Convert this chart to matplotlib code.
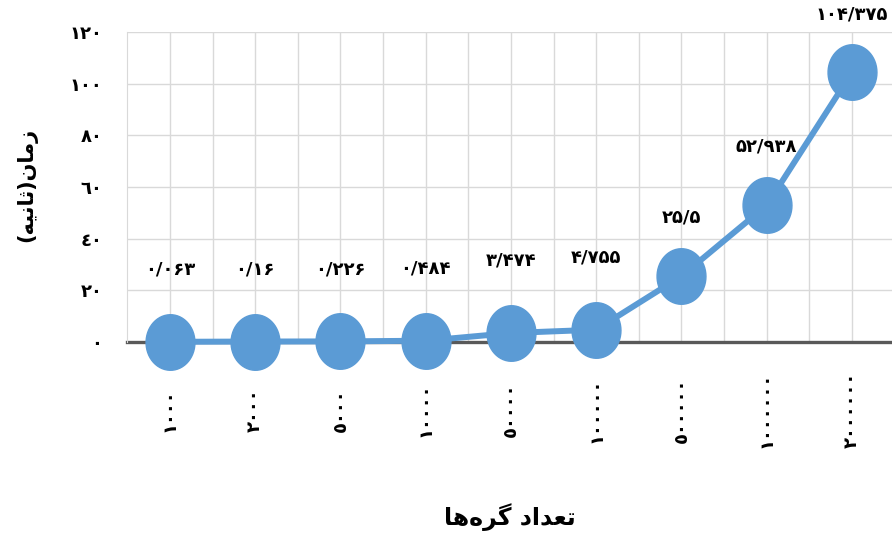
import numpy as np
import matplotlib
matplotlib.use("Agg")
import matplotlib.pyplot as plt
from matplotlib.path import Path

# تعداد گره‌ها و زمان اجرا (ثانیه)
nodes = [1000, 2000, 5000, 10000, 50000, 100000, 500000, 1000000, 2000000]
seconds = [0.063, 0.16, 0.226, 0.484, 3.474, 4.755, 25.5, 52.938, 104.375]
y_ticks = [0, 20, 40, 60, 80, 100, 120]

# matplotlib does no Arabic shaping: titles written in presentation forms, visual order
x_title = "\uFE8E\uFEEB\uFEE9\uFEAE\uFB94 \uFEA9\uFE8D\uFEAA\uFECC\uFE97"        # تعداد گره‌ها
y_title = "(\uFEEA\uFBFF\uFEE7\uFE8E\uFE9B)\uFEE5\uFE8E\uFEE3\uFEAF"            # زمان(ثانیه)

FA = str.maketrans("0123456789.", "۰۱۲۳۴۵۶۷۸۹/")
AR = str.maketrans("0123456789", "٠١٢٣٤٥٦٧٨٩")

BLUE = "#5B9BD5"
FONT = ["DejaVu Sans"]

t = np.linspace(0, 2 * np.pi, 60)
ellipse = Path(np.column_stack([0.88 * np.cos(t), np.sin(t)]), closed=True)

fig = plt.figure(figsize=(8.92, 5.36), dpi=100)
ax = fig.add_axes([0.1428, 0.362, 0.8572, 0.578])

xs = np.arange(len(nodes))
ax.plot(xs, seconds, color=BLUE, lw=4.3, zorder=3, solid_capstyle="round", clip_on=False)
ax.plot(xs, seconds, ls="none", marker=ellipse, ms=40, color=BLUE, zorder=4, clip_on=False)

for x, v in zip(xs, seconds):
    off = 52 if v < 10 else 42
    ax.annotate(repr(v).translate(FA), (x, v), xytext=(0, off), textcoords="offset points",
                ha="center", va="center", fontsize=13, fontweight="bold",
                family=FONT, zorder=5, annotation_clip=False)

ax.set_xlim(-0.5, 8.47)
ax.set_ylim(0, 120)
ax.set_yticks(y_ticks)
ax.set_yticklabels([str(v).translate(AR) for v in y_ticks], fontsize=13,
                   fontweight="bold", family=FONT)
ax.set_xticks(xs)
ax.set_xticks(xs[:-1] + 0.5, minor=True)
ax.set_xticklabels([str(n).translate(AR) for n in nodes], rotation=90, fontsize=13,
                   fontweight="bold", family=FONT)
plt.setp(ax.get_xticklabels(), va="center", ha="center")
ax.tick_params(axis="x", which="both", length=0, pad=49)
ax.tick_params(axis="y", length=0, pad=18)

ax.grid(True, which="both", color="#d9d9d9", lw=1.0, zorder=0)
ax.set_axisbelow(True)
for s in ("top", "right"):
    ax.spines[s].set_visible(False)
ax.spines["left"].set_color("#d9d9d9")
ax.spines["bottom"].set_color("#595959")
ax.spines["bottom"].set_linewidth(2.4)
ax.spines["bottom"].set_zorder(2)

fig.text(0.572, 0.035, x_title, ha="center", va="center", fontsize=17,
         fontweight="bold", family=FONT)
fig.text(0.03, 0.655, y_title, ha="center", va="center", rotation=90, fontsize=15,
         fontweight="bold", family=FONT)

fig.savefig("out.png", dpi=100)
